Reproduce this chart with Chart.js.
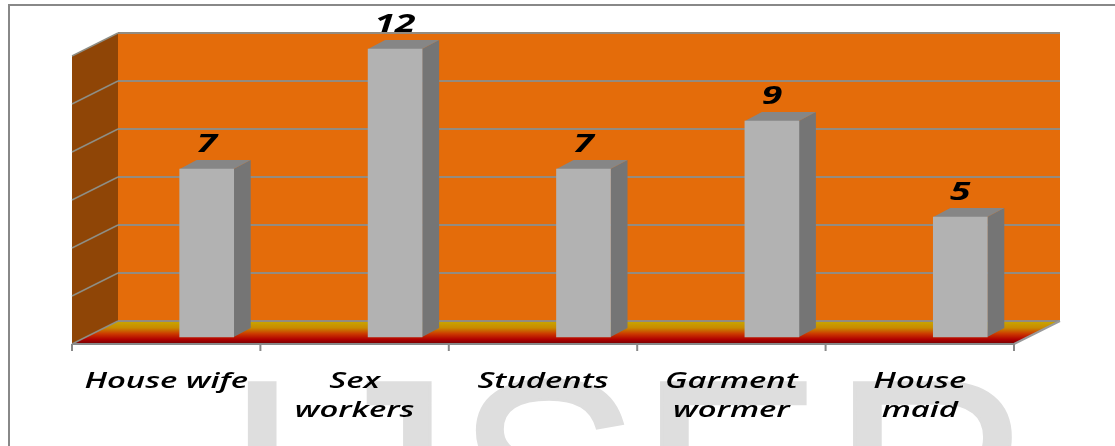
<!DOCTYPE html>
<html>
<head>
<meta charset="utf-8">
<title>Occupation chart</title>
<script src="https://cdn.jsdelivr.net/npm/chart.js@4"></script>
<style>
    html, body { margin: 0; padding: 0; background: #fff; overflow: hidden; }
    canvas { display: block; }
</style>
</head>
<body>
<canvas id="occupationChart" width="1115" height="446"></canvas>
<script>
const categories = [['House wife'], ['Sex', 'workers'], ['Students'], ['Garment', 'wormer'], ['House', 'maid']];
const counts = [7, 12, 7, 9, 5];
const watermarkLetters = ['I', 'J', 'S', 'E', 'R'];
const watermarkX = [224, 313, 456, 639, 832];

const WALL_DX = 46, WALL_DY = 16, FLOOR_FRONT_DY = 7;
const BAR_SHIFT = 40.5, BAR_DX = 17, BAR_DY = 9;
const TEXT_STRETCH = 1.49;

function fillPoly(ctx, points, fill) {
    ctx.beginPath();
    points.forEach(([x, y], i) => (i ? ctx.lineTo(x, y) : ctx.moveTo(x, y)));
    ctx.closePath();
    ctx.fillStyle = fill;
    ctx.fill();
}

function strokeLine(ctx, x1, y1, x2, y2, color, width) {
    ctx.beginPath();
    ctx.moveTo(x1, y1);
    ctx.lineTo(x2, y2);
    ctx.strokeStyle = color;
    ctx.lineWidth = width;
    ctx.stroke();
}

// Original picture is stretched sideways, so the text is too
function stretchedText(ctx, text, x, y, font) {
    ctx.save();
    ctx.font = font;
    ctx.fillStyle = '#000';
    ctx.textAlign = 'center';
    ctx.textBaseline = 'middle';
    ctx.scale(TEXT_STRETCH, 1);
    ctx.fillText(text, x / TEXT_STRETCH, y);
    ctx.restore();
}

const scenePlugin = {
    id: 'scene',
    beforeDraw(chart) {
        const { ctx } = chart;
        ctx.save();
        // watermark running off the bottom of the page
        ctx.font = "275px 'Liberation Sans'";
        ctx.fillStyle = '#dedede';
        ctx.strokeStyle = '#dedede';
        ctx.lineWidth = 3;
        ctx.textAlign = 'left';
        ctx.textBaseline = 'alphabetic';
        watermarkLetters.forEach((letter, i) => {
            ctx.fillText(letter, watermarkX[i], 572);
            ctx.strokeText(letter, watermarkX[i], 572);
        });
        // frame
        strokeLine(ctx, 9, 5, 9, 446, '#888', 2);
        strokeLine(ctx, 8, 5, 1115, 5, '#888', 2);
        ctx.restore();
    },
    beforeDatasetsDraw(chart) {
        const { ctx, chartArea, scales: { x, y } } = chart;
        const left = chartArea.left, right = chartArea.right;
        const zero = y.getPixelForValue(0), top = y.getPixelForValue(y.max);
        const floorFront = zero + FLOOR_FRONT_DY, floorBack = zero - WALL_DY;
        const backTop = top - WALL_DY;

        ctx.save();
        fillPoly(ctx, [[left + WALL_DX, backTop], [right + WALL_DX, backTop], [right + WALL_DX, floorBack], [left + WALL_DX, floorBack]], '#e46c0a');
        fillPoly(ctx, [[left, top + FLOOR_FRONT_DY], [left + WALL_DX, backTop], [left + WALL_DX, floorBack], [left, floorFront]], '#8f4506');

        const floor = ctx.createLinearGradient(0, floorBack, 0, floorFront);
        floor.addColorStop(0, '#c9a800');
        floor.addColorStop(0.3, '#c88a00');
        floor.addColorStop(0.55, '#cc3a00');
        floor.addColorStop(0.8, '#b00000');
        floor.addColorStop(1, '#700000');
        fillPoly(ctx, [[left, floorFront], [right, floorFront], [right + WALL_DX, floorBack], [left + WALL_DX, floorBack]], floor);

        y.ticks.forEach(tick => {
            const py = y.getPixelForValue(tick.value);
            strokeLine(ctx, left, py + FLOOR_FRONT_DY, left + WALL_DX, py - WALL_DY, '#8f8f85', 1.5);
            strokeLine(ctx, left + WALL_DX, py - WALL_DY, right + WALL_DX, py - WALL_DY, '#938b80', 2);
        });
        strokeLine(ctx, right, floorFront, right + WALL_DX, floorBack, '#999', 2);

        // front axis line and the ticks between categories
        strokeLine(ctx, left, floorFront, right, floorFront, '#888', 2);
        const step = (right - left) / categories.length;
        categories.forEach((c, i) => {
            const edge = x.getPixelForValue(i) - step / 2;
            strokeLine(ctx, edge, floorFront, edge, floorFront + 7, '#888', 2);
        });
        strokeLine(ctx, right, floorFront, right, floorFront + 7, '#888', 2);

        // side and top faces of the bars
        chart.getDatasetMeta(0).data.forEach(bar => {
            const l = bar.x - bar.width / 2 + BAR_SHIFT, r = bar.x + bar.width / 2 + BAR_SHIFT;
            fillPoly(ctx, [[r, bar.y], [r + BAR_DX, bar.y - BAR_DY], [r + BAR_DX, bar.base - BAR_DY], [r, bar.base]], '#757575');
            fillPoly(ctx, [[l, bar.y], [l + BAR_DX, bar.y - BAR_DY], [r + BAR_DX, bar.y - BAR_DY], [r, bar.y]], '#868686');
        });
        ctx.restore();

        ctx.save();
        ctx.translate(BAR_SHIFT, 0);
    },
    afterDatasetsDraw(chart) {
        const { ctx, scales: { x } } = chart;
        ctx.restore();

        chart.getDatasetMeta(0).data.forEach((bar, i) => {
            stretchedText(ctx, String(counts[i]), bar.x + BAR_SHIFT, bar.y - 24, "italic 700 25px 'Open Sans'");
            categories[i].forEach((line, n) => {
                stretchedText(ctx, line, x.getPixelForValue(i), 382 + n * 29, "italic 600 22px 'Open Sans'");
            });
        });
    }
};

new Chart(document.getElementById('occupationChart').getContext('2d'), {
    type: 'bar',
    plugins: [scenePlugin],
    data: {
        labels: categories.map(c => c.join(' ')),
        datasets: [{
            data: counts,
            backgroundColor: '#b2b2b2',
            barThickness: 54,
            clip: false
        }]
    },
    options: {
        responsive: false,
        animation: false,
        layout: { padding: { left: 72, right: 101, top: 49, bottom: 109 } },
        plugins: { legend: { display: false }, tooltip: { enabled: false } },
        scales: {
            x: { display: false },
            y: { display: false, min: 0, max: 12, ticks: { stepSize: 2 } }
        }
    }
});
</script>
</body>
</html>
